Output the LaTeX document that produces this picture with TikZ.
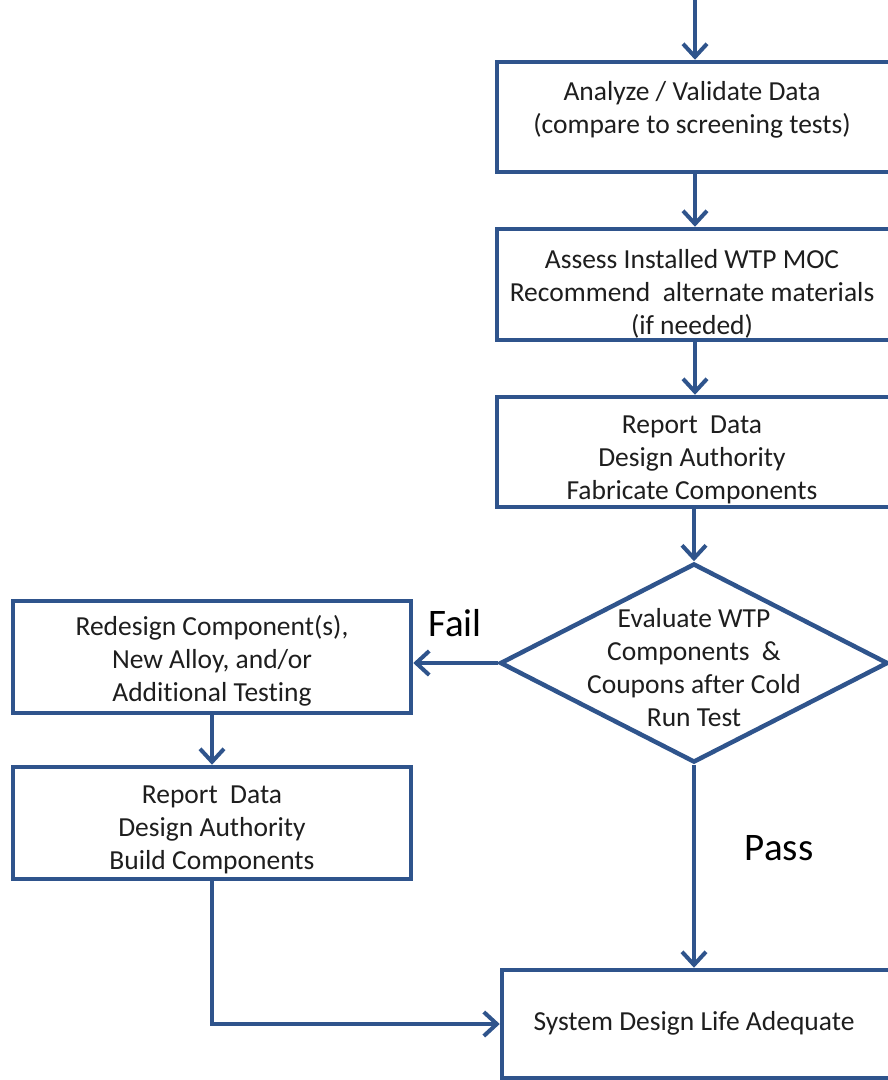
\documentclass[tikz,border=0pt]{standalone}
\usepackage{fontspec}
\setmainfont[Ligatures=NoCommon]{Carlito}
\usetikzlibrary{arrows.meta,shapes.geometric}
\definecolor{flow}{RGB}{47,84,140}
\definecolor{ink}{RGB}{30,30,30}
\begin{document}
\begin{tikzpicture}[x=1pt,y=-1pt,
  box/.style={draw=flow, line width=4.5pt, fill=white, inner sep=0pt},
  txt/.style={text=ink, font=\fontsize{27.5}{33}\selectfont, align=center, inner sep=0pt},
  big/.style={text=black, font=\fontsize{39}{44}\selectfont, inner sep=0pt},
  link/.style={draw=flow, line width=4.5pt, -{Straight Barb[length=13pt,width=24pt,line width=4pt]}}
]
\useasboundingbox (0,0) rectangle (888,1080);
\clip (0,0) rectangle (888,1080);
\fill[white] (0,0) rectangle (888,1080);

\node[box, minimum width=396pt, minimum height=110pt] (a) at (695,117) {};
\node[txt] (ta) at (692,110) {Analyze / Validate Data\\(compare to screening tests)};

\node[box, minimum width=396pt, minimum height=111pt] (b) at (695,284.5) {};
\node[txt] (tb) at (692,294) {Assess Installed WTP MOC\\Recommend\ \ alternate materials\\(if needed)};

\node[box, minimum width=396pt, minimum height=110pt] (c) at (695,452) {};
\node[txt] (tc) at (692,460) {Report\ \ Data\\Design Authority\\Fabricate Components};

\node[diamond, draw=flow, line width=4.5pt, fill=white, minimum width=388pt, minimum height=199pt, inner sep=0pt] (d) at (694,663) {};
\node[txt] (td) at (694,668) {Evaluate WTP\\Components\ \ \&\\Coupons after Cold\\Run Test};

\node[box, minimum width=398pt, minimum height=112pt] (r) at (212,657) {};
\node[txt] (tr) at (212,661) {Redesign Component(s),\\New Alloy, and/or\\Additional Testing};

\node[box, minimum width=398pt, minimum height=112pt] (r2) at (212,823) {};
\node[txt] (tr2) at (212,830) {Report\ \ Data\\Design Authority\\Build Components};

\node[box, minimum width=391pt, minimum height=108pt] (e) at (697.5,1024) {};
\node[txt] (te) at (694,1023) {System Design Life Adequate};

\node[big] (fail) at (455,623) {Fail};
\node[big] (pass) at (779,848) {Pass};

\coordinate (top) at (695,-10);
\draw[link] (top) -- (a.north);
\draw[link] (a) -- (b);
\draw[link] (b) -- (c);
\draw[link] (d.north |- c.south) -- (d.north);
\draw[link] (d.west) -- (d.west -| r.east);
\draw[link] (r) -- (r2);
\draw[link] (d.south) -- (d.south |- e.north);
\draw[link] (r2.south) -- (r2.south |- e.west) -- (e.west);
\end{tikzpicture}
\end{document}
